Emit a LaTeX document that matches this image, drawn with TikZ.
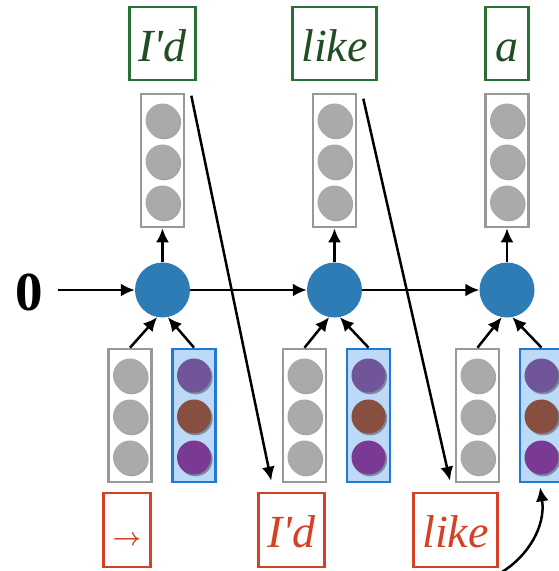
\documentclass[tikz,border=0pt]{standalone}
\usepackage{fontspec}
\setmainfont{Liberation Serif}
\usetikzlibrary{arrows.meta,calc,shadows}

\definecolor{hidblue}{RGB}{46,124,181}
\definecolor{wordgreen}{RGB}{40,112,52}
\definecolor{greentext}{RGB}{32,78,34}
\definecolor{wordred}{RGB}{212,66,36}
\definecolor{cellgray}{RGB}{170,170,170}
\definecolor{framegray}{RGB}{152,152,152}
\definecolor{embframe}{RGB}{34,120,212}
\definecolor{embfill}{RGB}{188,217,247}
\definecolor{embA}{RGB}{112,86,152}
\definecolor{embB}{RGB}{136,78,64}
\definecolor{embC}{RGB}{122,58,148}

\tikzset{
  vecbox/.style={draw=framegray, line width=2.6pt, fill=white,
    minimum width=43pt, minimum height=133pt, inner sep=0pt},
  embbox/.style={vecbox, draw=embframe, line width=2.8pt, fill=embfill},
  cell/.style={circle, minimum size=34pt, inner sep=0pt, fill=#1,
    drop shadow={shadow xshift=1.6pt, shadow yshift=-1.8pt, opacity=0.35, fill=black}},
  hid/.style={circle, fill=hidblue, minimum size=55pt, inner sep=0pt},
  wordbox/.style={line width=2.6pt, minimum height=73pt, minimum width=43pt,
    inner xsep=9pt, inner ysep=0pt, text height=38pt, text depth=3pt,
    font=\fontsize{46}{46}\selectfont\itshape},
  outword/.style={wordbox, draw=wordgreen, text=greentext},
  inword/.style={wordbox, draw=wordred, text=wordred, minimum height=74pt},
  conn/.style={line width=2.5pt, -{Latex[length=14pt,width=13pt]}},
}

\begin{document}
\begin{tikzpicture}[x=1pt,y=-1pt]
  \useasboundingbox (0,0) rectangle (559,571);

  % initial state
  \node[font=\fontsize{55}{55}\selectfont\bfseries, inner sep=0pt] (zero) at (29,292) {0};

  % one time step per column: hidden unit, output vector, predicted word,
  % previous-word vector, embedding and the word fed in
  \foreach \i/\hx/\gx/\ow/\iw in {%
      1/162.5/130/{I\textquotesingle d}/{\fontsize{28}{28}\selectfont\raisebox{2pt}{\boldmath$\rightarrow$}},
      2/334.5/304.5/{like}/{I\textquotesingle d},
      3/507/477.5/{a}/{like}} {
    \node[hid] (h\i) at (\hx,290) {};
    \node[vecbox] (o\i) at (\hx,160.5) {};
    \foreach \k/\dy in {a/-40,b/1,c/42}
      \node[cell=cellgray] (o\i\k) at (\hx,160.5+\dy) {};
    \node[outword] (ow\i) at (\hx,43.5) {\ow};

    \node[vecbox] (g\i) at (\gx,415.5) {};
    \foreach \k/\dy in {a/-40,b/1,c/42}
      \node[cell=cellgray] (g\i\k) at (\gx,415.5+\dy) {};
    \node[embbox] (e\i) at (\gx+64,415.5) {};
    \node[cell=embA] (e\i a) at (\gx+64,375.5) {};
    \node[cell=embB] (e\i b) at (\gx+64,416.5) {};
    \node[cell=embC] (e\i c) at (\gx+64,457.5) {};
    \node[inword, anchor=east] (iw\i) at (\gx+21.5,530) {\iw};

    \draw[conn] (h\i.north) -- (o\i.south);
    \draw[conn] (g\i.north) -- (h\i.-101);
    \draw[conn] (e\i.north) -- (h\i.-79);
  }

  % recurrence
  \draw[conn, shorten <=15pt] (zero.east |- h1) -- (h1.west);
  \draw[conn] (h1.east) -- (h2.west);
  \draw[conn] (h2.east) -- (h3.west);

  % each prediction is fed back as the next input
  \coordinate (fb1s) at ($(o1.north east)+(6,3)$);
  \coordinate (fb1e) at ($(iw2.north west)+(14,-11)$);
  \coordinate (fb2s) at ($(o2.north east)+(6,6)$);
  \coordinate (fb2e) at ($(iw3.north west)+(38,-11)$);
  \draw[conn] (fb1s) -- (fb1e);
  \draw[conn] (fb2s) -- (fb2e);

  \coordinate (fb3s) at (502,572);
  \draw[conn, shorten >=4pt] (fb3s) .. controls (528,556) and (546,526) .. ($(e3.south)+(-2,0)$);
\end{tikzpicture}
\end{document}
